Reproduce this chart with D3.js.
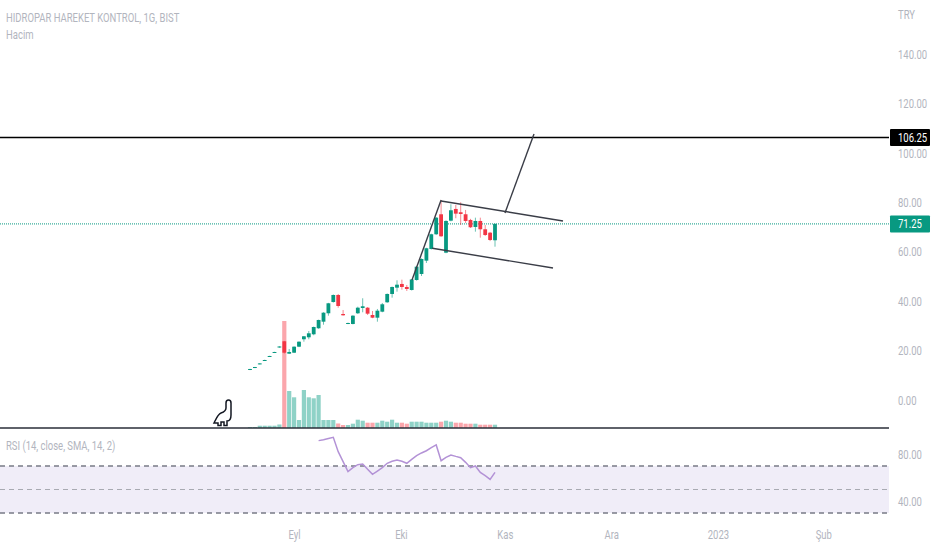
<!DOCTYPE html>
<html>
<head>
<meta charset="utf-8">
<script src="https://cdn.jsdelivr.net/npm/d3@7"></script>
<style>
  body { margin: 0; background: #fff; }
  text { font-family: "Roboto", sans-serif; }
</style>
</head>
<body>
<div id="chart"></div>
<script>
//Daily candles, one entry per trading day
var opens = [12.26,13.07,14.57,15.95,17.56,19.18,21.25,23.76,18.74,19.14,
  21.57,24.57,25.37,26.59,29.02,31.69,35.09,39.66,42.49,34.80,
  30.88,30.76,35.09,37.23,37.35,34.40,33.31,35.74,39.54,42.90,
  45.45,46.95,45.73,44.52,48.56,50.99,56.38,61.11,67.06,75.15,
  59.61,72.56,77.30,75.96,75.15,72.85,70.01,72.44,69.08,67.70,64.63];
var closes = [12.55,13.35,14.81,16.19,17.81,19.43,21.65,19.14,19.43,21.57,
  23.59,25.78,26.99,29.54,32.38,35.33,39.13,42.49,38.04,34.28,
  31.16,34.12,37.35,37.92,34.93,33.31,36.14,38.73,42.90,45.73,
  46.66,45.73,44.92,48.77,53.95,57.06,61.39,67.06,73.78,66.25,
  72.44,76.77,75.40,75.27,72.44,69.89,72.44,69.08,66.77,64.75,71.25];
var highs = [12.6,13.4,14.9,16.3,17.9,19.5,21.8,23.9,20.64,21.7,
  23.7,25.9,27.92,29.7,32.5,35.5,39.3,42.7,42.9,36.42,
  31.3,34.3,37.76,41.16,37.6,36.02,36.83,39.26,43.1,45.9,
  48.44,48.69,46.54,48.9,54.2,57.3,61.6,67.3,74,80.94,
  72.7,79.2,78.92,80,76.9,73.3,73.78,73.78,70.82,68,71.4];
var lows = [12.1,12.9,14.4,15.8,17.4,19,21.1,18.8,18.6,19,
  21.4,23.59,24.57,26.2,28.8,30.47,34.12,39.4,37.35,34.1,
  30.7,30.6,34.8,35.49,34.4,33.1,31.69,35.5,39.3,41.4,
  43.83,44.64,44.11,44.3,48.3,50.18,55.44,60.9,66.8,66,
  59.4,72.3,73.53,70.82,71.63,69.6,68.11,65.68,66.37,64.3,62.04];

//Volume in relative units, the real scale is not shown
var volumes = [1,1,2.3,2.3,2.3,2.3,3.5,107,37,30.7,
  8,38,30.7,29.7,33,8,8,8,4.5,3,
  3,4.3,8.3,7.3,5.3,5.3,5.3,7.3,6.3,8.3,
  5.3,5.3,4.3,6.3,6.3,6.3,5.3,5.3,5.3,6.3,
  7.3,6.3,5.3,5.3,4.3,4.3,4.3,3.3,3.3,3.3,3.3];

//RSI starts on candle 14
var rsiStart = 14;
var rsiValues = [91.6,92.4,93.4,94.4,82.2,73.7,65.2,68.6,71.1,71.7,
  67.2,62.9,65.7,68.6,72.3,74.0,75.1,74.0,72.3,75.7,
  78.8,81.1,83.0,85.6,87.9,74.5,77.4,79.4,78.2,77.1,
  73.1,68.6,70.0,64.6,61.8,58.6,64.6];

//Axis labels
var priceTicks = [0,20,40,60,80,100,120,140];
var rsiTicks = [40,80];
var monthTicks = [9,30.8,52,73.7,95.5,117];
var monthLabels = ["Eyl","Eki","Kas","Ara","2023","Şub"];

//Levels and hand drawn lines as [candle, price] pairs
var resistance = 106.25;
var lastPrice = 71.25;
var poleLine = [[33.06,48.56],[39,80.9]];
var upperLine = [[39,80.5],[63.88,72.44]];
var lowerLine = [[37.2,61.4],[61.84,53.42]];
var targetLine = [[52.04,75.68],[57.96,107.65]];

var width = 932, height = 550, plotRight = 889;
var green = "#089981", red = "#f23645", gray = "#b2b5be";

var svg = d3.select("#chart").append("svg")
  .attr("width", width).attr("height", height)
  .style("display", "block");

var x = d3.scaleLinear().domain([0, 50]).range([250, 495]);
var y = d3.scaleLinear().domain([0, 140]).range([400, 54]);
var yVol = d3.scaleLinear().domain([0, 107]).range([428, 321]);
var yRsi = d3.scaleLinear().domain([30, 70]).range([513, 466]);

//Titles
function label(px, py, txt) {
  svg.append("text").attr("x", px).attr("y", py).text(txt)
    .attr("fill", gray).attr("font-size", 13);
}
label(6, 22, "HIDROPAR HAREKET KONTROL, 1G, BIST");
label(6, 39, "Hacim");
label(6, 450, "RSI (14, close, SMA, 14, 2)");
label(898, 19, "TRY");

//Axes
function styleAxis(g) {
  g.select(".domain").remove();
  g.selectAll("line").remove();
  g.selectAll("text").attr("fill", gray).attr("font-size", 13)
    .style("font-family", '"Roboto", sans-serif');
}
svg.append("g").attr("transform", "translate(898,0)")
  .call(d3.axisRight(y).tickValues(priceTicks).tickSize(0).tickPadding(0).tickFormat(d3.format(".2f")))
  .call(styleAxis);
svg.append("g").attr("transform", "translate(898,0)")
  .call(d3.axisRight(yRsi).tickValues(rsiTicks).tickSize(0).tickPadding(0).tickFormat(d3.format(".2f")))
  .call(styleAxis);
svg.append("g").attr("transform", "translate(0,527)")
  .call(d3.axisBottom(x).tickValues(monthTicks).tickSize(0).tickPadding(3)
    .tickFormat((d, i) => monthLabels[i]))
  .call(styleAxis);

//RSI pane
svg.append("rect").attr("x", 0).attr("width", plotRight)
  .attr("y", yRsi(70)).attr("height", yRsi(30) - yRsi(70))
  .attr("fill", "#f0edf8");
[[70, 1.5, "#787b86"], [30, 1.5, "#787b86"], [50, 1, "#a8aab2"]].forEach(function(b) {
  svg.append("line").attr("x1", 0).attr("x2", plotRight)
    .attr("y1", yRsi(b[0])).attr("y2", yRsi(b[0]))
    .attr("stroke", b[2]).attr("stroke-width", b[1])
    .attr("stroke-dasharray", "5 4");
});
var rsiLine = d3.line()
  .x((d, i) => x(i + rsiStart))
  .y(d => yRsi(d));
svg.append("path").datum(rsiValues).attr("d", rsiLine)
  .attr("fill", "none").attr("stroke", "#b392d6").attr("stroke-width", 1.5);

//Volume bars
svg.selectAll(".vol").data(volumes).enter().append("rect")
  .attr("class", "vol")
  .attr("x", (d, i) => x(i) - 2.1).attr("width", 4.2)
  .attr("y", d => yVol(d)).attr("height", d => yVol(0) - yVol(d))
  .attr("fill", (d, i) => closes[i] >= opens[i] ? "#8fd2c7" : "#fba6ac");

//Last price and resistance levels
svg.append("line").attr("x1", 0).attr("x2", plotRight)
  .attr("y1", y(lastPrice)).attr("y2", y(lastPrice))
  .attr("stroke", green).attr("stroke-width", 1).attr("stroke-dasharray", "1 1");
svg.append("line").attr("x1", 0).attr("x2", plotRight)
  .attr("y1", y(resistance)).attr("y2", y(resistance))
  .attr("stroke", "#000").attr("stroke-width", 1.5);

//Candles
var candles = svg.selectAll(".candle").data(opens).enter().append("g").attr("class", "candle");
candles.append("line")
  .attr("x1", (d, i) => x(i)).attr("x2", (d, i) => x(i))
  .attr("y1", (d, i) => y(highs[i])).attr("y2", (d, i) => y(lows[i]))
  .attr("stroke", (d, i) => closes[i] >= d ? green : red).attr("stroke-width", 1)
  .attr("stroke-opacity", 0.6);
candles.append("rect")
  .attr("x", (d, i) => x(i) - 1.9).attr("width", 3.8)
  .attr("y", (d, i) => y(Math.max(d, closes[i])))
  .attr("height", (d, i) => Math.max(1, Math.abs(y(d) - y(closes[i]))))
  .attr("fill", (d, i) => closes[i] >= d ? green : red);

//Hand drawn pattern
var drawn = d3.line().x(d => x(d[0])).y(d => y(d[1]));
[poleLine, upperLine, lowerLine, targetLine].forEach(function(l) {
  svg.append("path").attr("d", drawn(l)).attr("fill", "none")
    .attr("stroke", "#3a3d47").attr("stroke-width", 1.4);
});

//Pane separator
svg.append("line").attr("x1", 0).attr("x2", plotRight)
  .attr("y1", 428).attr("y2", 428)
  .attr("stroke", "#2a2e39").attr("stroke-width", 1.5);

//Price tags
function tag(value, fill, txt) {
  svg.append("rect").attr("x", 890).attr("width", 40)
    .attr("y", y(value) - 8.5).attr("height", 17).attr("rx", 1)
    .attr("fill", fill);
  svg.append("text").attr("x", 898).attr("y", y(value) + 4.5).text(txt)
    .attr("fill", "#fff").attr("font-size", 13);
}
tag(resistance, "#000", "106.25");
tag(lastPrice, green, "71.25");

//Logo
svg.append("path")
  .attr("d", "M214,423 C216,419 218,414 221,413 C224,412 226,411 226,408 L226,403 C226,399 231,399 231,403 L231,415 C231,419 229,421 227,421 L227,425.5 L224,425.5 L224,422 L221,422 L221,425.5 L218,425.5 L218,423 Z")
  .attr("fill", "#fff").attr("stroke", "#131722").attr("stroke-width", 1.5);

//The reference text is condensed, squeeze every label around its own anchor
svg.selectAll("text").each(function() {
  var ax = +this.getAttribute("x") || 0;
  this.setAttribute("transform", "translate(" + ax + ",0) scale(0.73,1) translate(" + (-ax) + ",0)");
});
</script>
</body>
</html>
